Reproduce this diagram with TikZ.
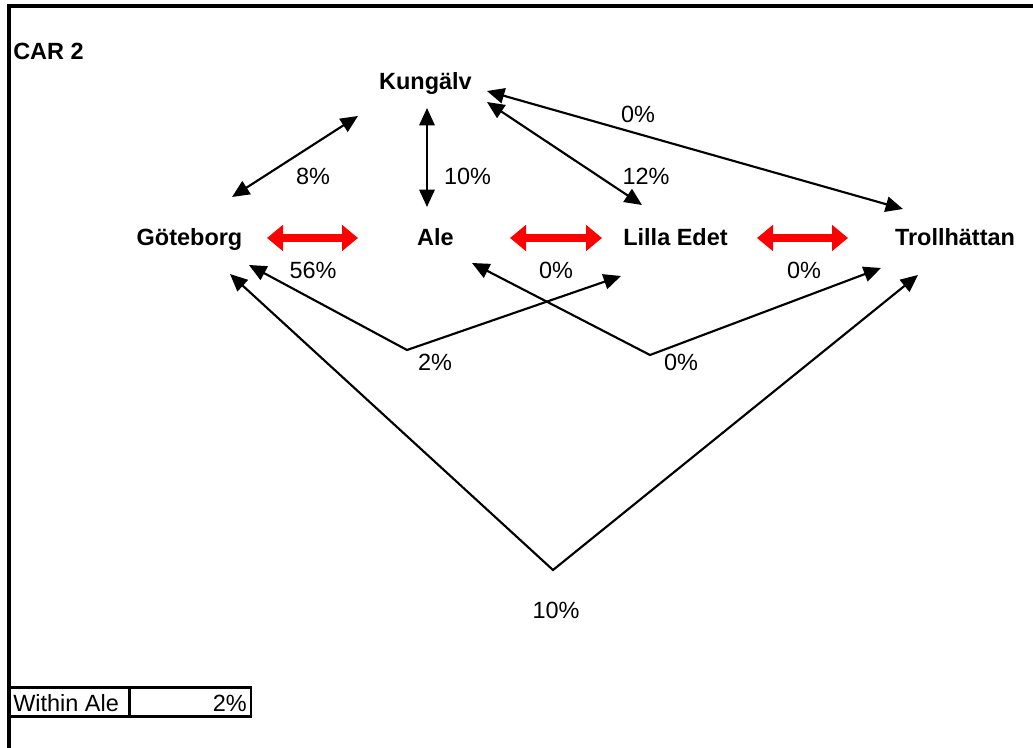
\documentclass[tikz,border=0pt]{standalone}
\usepackage{fontspec}
\setmainfont{Liberation Sans}
\usetikzlibrary{arrows.meta}
\begin{document}
\begin{tikzpicture}[x=0.75pt,y=-0.75pt,
  every node/.style={inner sep=0pt, font=\fontsize{17.6}{21}\selectfont},
  place/.style={anchor=base, font=\fontsize{17.6}{21}\selectfont\bfseries},
  pct/.style={anchor=base},
  flow/.style={line width=1.6pt, line join=miter,
    {Triangle[length=13pt,width=11.5pt]}-{Triangle[length=13pt,width=11.5pt]}},
  mainflow/.style={draw=red, line width=5.5pt,
    {Triangle[length=12pt,width=19pt]}-{Triangle[length=12pt,width=19pt]}},
  frame/.style={line width=3pt, line join=miter},
  cellbox/.style={line width=2.2pt}]
\useasboundingbox (0,0) rectangle (1033,748);

% sheet frame
\draw[frame] (9,748) -- (9,6) -- (1033,6);

% title
\node[place, anchor=base west] (title) at (13,60) {CAR 2};

% municipalities
\node[place] (kung)  at (425.5,90)  {Kungälv};
\node[place] (gbg)   at (189.5,245.5) {Göteborg};
\node[place] (ale)   at (435.5,245.5) {Ale};
\node[place] (lilla) at (675.5,245.5) {Lilla Edet};
\node[place] (troll) at (955,245.5) {Trollhättan};

% arrow end points
\coordinate (gk-g) at (232,197);  \coordinate (gk-k) at (358,116);
\coordinate (ka-k) at (427,108);  \coordinate (ka-a) at (427,207);
\coordinate (kl-k) at (487,102);  \coordinate (kl-l) at (642,205);
\coordinate (kt-k) at (487,91);   \coordinate (kt-t) at (903,209);
\coordinate (ga-g) at (267,238);  \coordinate (ga-a) at (358,238);
\coordinate (al-a) at (510,238);  \coordinate (al-l) at (602,238);
\coordinate (lt-l) at (757,238);  \coordinate (lt-t) at (848,238);
\coordinate (gl-g) at (249,265);  \coordinate (gl-v) at (407,350);  \coordinate (gl-l) at (621,276);
\coordinate (at-a) at (472,263);  \coordinate (at-v) at (650,355);  \coordinate (at-t) at (881,268);
\coordinate (gt-g) at (230,274);  \coordinate (gt-v) at (553,570);  \coordinate (gt-t) at (918,275);

% flows towards Kungälv
\draw[flow] (gk-g) -- (gk-k);
\draw[flow] (ka-k) -- (ka-a);
\draw[flow] (kl-k) -- (kl-l);
\draw[flow] (kt-k) -- (kt-t);

% flows along the river valley
\draw[mainflow] (ga-g) -- (ga-a);
\draw[mainflow] (al-a) -- (al-l);
\draw[mainflow] (lt-l) -- (lt-t);

% longer links
\draw[flow] (gl-g) -- (gl-v) -- (gl-l);
\draw[flow] (at-a) -- (at-v) -- (at-t);
\draw[flow] (gt-g) -- (gt-v) -- (gt-t);

% shares
\node[pct] (p-gk) at (313,184.4) {8\%};
\node[pct] (p-ka) at (467.5,184.4) {10\%};
\node[pct] (p-kl) at (646,184.4) {12\%};
\node[pct] (p-kt) at (638,122.4) {0\%};
\node[pct] (p-ga) at (313,278.4) {56\%};
\node[pct] (p-al) at (556,278.4) {0\%};
\node[pct] (p-lt) at (804,278.4) {0\%};
\node[pct] (p-gl) at (435,370.4) {2\%};
\node[pct] (p-at) at (681,370.4) {0\%};
\node[pct] (p-gt) at (556,618.4) {10\%};

% internal share box
\draw[cellbox] (10,687.5) rectangle (251,716.5);
\draw[cellbox] (129.5,687.5) -- (129.5,716.5);
\node[anchor=base west] (within) at (13,711.4) {Within Ale};
\node[anchor=base east] (withinval) at (247,711.4) {2\%};
\end{tikzpicture}
\end{document}
